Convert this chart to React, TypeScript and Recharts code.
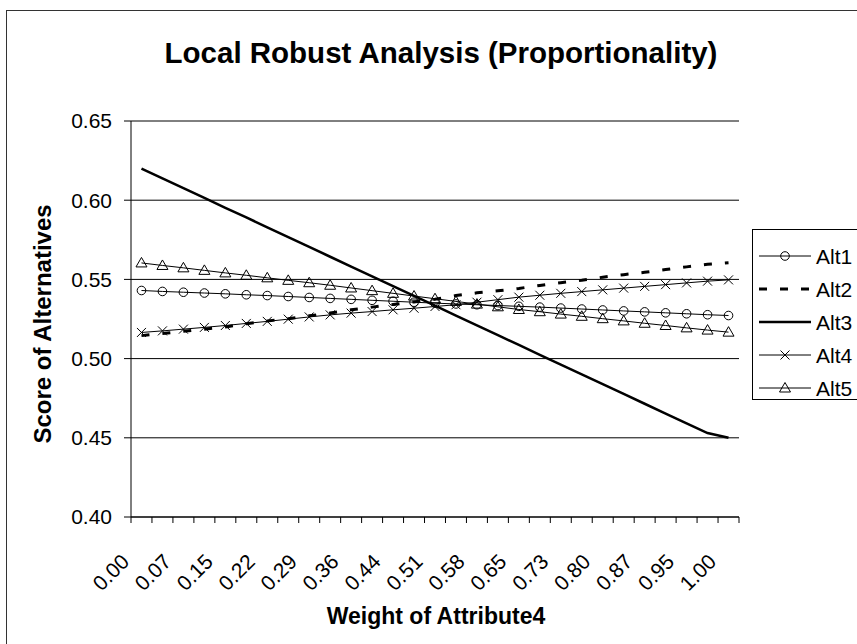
import React from 'react';
import { LineChart, Line, XAxis, YAxis, CartesianGrid } from 'recharts';

const categories = ['0.00','0.04','0.07','0.11','0.15','0.18','0.22','0.25','0.29','0.33','0.36','0.40','0.44','0.47','0.51','0.55','0.58','0.62','0.65','0.69','0.73','0.76','0.80','0.84','0.87','0.91','0.95','0.98','1.00'];

const alt1 = [0.5430,0.5424,0.5419,0.5414,0.5409,0.5403,0.5398,0.5392,0.5386,0.5380,0.5374,0.5368,0.5362,0.5356,0.5350,0.5345,0.5340,0.5335,0.5330,0.5325,0.5319,0.5313,0.5307,0.5301,0.5295,0.5289,0.5283,0.5277,0.5272];
const alt2 = [0.5145,0.5158,0.5172,0.5186,0.5200,0.5220,0.5238,0.5252,0.5270,0.5288,0.5308,0.5325,0.5342,0.5358,0.5375,0.5398,0.5415,0.5428,0.5443,0.5462,0.5479,0.5495,0.5514,0.5530,0.5545,0.5562,0.5579,0.5596,0.5605];
const alt3 = [0.6200,0.6138,0.6076,0.6014,0.5952,0.5891,0.5829,0.5767,0.5705,0.5643,0.5581,0.5519,0.5457,0.5396,0.5334,0.5272,0.5210,0.5148,0.5086,0.5024,0.4962,0.4901,0.4839,0.4777,0.4715,0.4653,0.4591,0.4530,0.4500];
const alt4 = [0.5165,0.5175,0.5186,0.5197,0.5209,0.5222,0.5235,0.5249,0.5263,0.5276,0.5287,0.5297,0.5308,0.5318,0.5329,0.5340,0.5356,0.5372,0.5388,0.5400,0.5412,0.5423,0.5434,0.5445,0.5456,0.5467,0.5478,0.5489,0.5497];
const alt5 = [0.5604,0.5588,0.5573,0.5557,0.5541,0.5526,0.5510,0.5494,0.5479,0.5463,0.5446,0.5429,0.5412,0.5395,0.5378,0.5361,0.5344,0.5327,0.5310,0.5296,0.5281,0.5267,0.5252,0.5238,0.5223,0.5209,0.5194,0.5180,0.5167];

const yTicks = [0.40, 0.45, 0.50, 0.55, 0.60, 0.65];
const seriesNames = ['Alt1', 'Alt2', 'Alt3', 'Alt4', 'Alt5'];
const seriesValues = [alt1, alt2, alt3, alt4, alt5];

const titleText = 'Local Robust Analysis (Proportionality)';
const xTitle = 'Weight of Attribute4';
const yTitle = 'Score of Alternatives';

const data = categories.map((c, i) => {
  const row: Record<string, number | string> = { w: c };
  seriesNames.forEach((n, k) => { row[n] = seriesValues[k][i]; });
  return row;
});

const W = 857;
const H = 644;
const PLOT_L = 131;
const PLOT_R = 739;
const PLOT_T = 121;
const PLOT_B = 517;
const HALF = (PLOT_R - PLOT_L) / categories.length / 2;
const FONT = '"Liberation Sans", Arial, Helvetica, sans-serif';

const CircleDot = (p: any) => (
  <circle key={`c${p.index}`} cx={p.cx} cy={p.cy} r={4.3} fill="none" stroke="#000" strokeWidth={1} />
);
const CrossDot = (p: any) => (
  <path key={`x${p.index}`} d={`M${p.cx - 4.5},${p.cy - 4.5}L${p.cx + 4.5},${p.cy + 4.5}M${p.cx - 4.5},${p.cy + 4.5}L${p.cx + 4.5},${p.cy - 4.5}`} stroke="#000" strokeWidth={1} fill="none" />
);
const TriDot = (p: any) => (
  <path key={`t${p.index}`} d={`M${p.cx},${p.cy - 5.5}L${p.cx + 5.5},${p.cy + 4}L${p.cx - 5.5},${p.cy + 4}Z`} stroke="#000" strokeWidth={1} fill="none" />
);

type SeriesStyle = { width: number; dash?: string; marker?: (p: any) => React.ReactElement };
const styles: Record<string, SeriesStyle> = {
  Alt1: { width: 1, marker: CircleDot },
  Alt2: { width: 3, dash: '8 13' },
  Alt3: { width: 2.5 },
  Alt4: { width: 1, marker: CrossDot },
  Alt5: { width: 1, marker: TriDot },
};

const XTick = (props: any) => {
  const { x, y, payload } = props;
  const idx = payload && payload.index !== undefined ? payload.index : props.index;
  const last = idx === categories.length - 1;
  const ax = x - 11;
  const ay = y + 46;
  return (
    <g>
      <line x1={x - HALF} x2={x - HALF} y1={y} y2={y + 6} stroke="#000" strokeWidth={1} />
      {last && <line x1={x + HALF} x2={x + HALF} y1={y} y2={y + 6} stroke="#000" strokeWidth={1} />}
      {idx % 2 === 0 && (
        <text x={ax} y={ay} textAnchor="end" fontSize={21} fontFamily={FONT} fill="#000" transform={`rotate(-45 ${ax} ${ay})`}>
          {payload.value}
        </text>
      )}
    </g>
  );
};

const LEG_X = 752;
const LEG_Y = 229;
const LEG_STEP = 33;

const Legend = () => (
  <svg width={130} height={175} style={{ position: 'absolute', left: LEG_X, top: LEG_Y, overflow: 'visible' }}>
    <rect x={0.5} y={0.5} width={140} height={170} fill="#fff" stroke="#000" strokeWidth={1} />
    {seriesNames.map((n, k) => {
      const cy = 27 + k * LEG_STEP;
      const s = styles[n];
      return (
        <g key={n}>
          <line x1={7} x2={59} y1={cy} y2={cy} stroke="#000" strokeWidth={s.width} strokeDasharray={s.dash} />
          {s.marker && s.marker({ cx: 33, cy, index: 'leg' })}
          <text x={64} y={cy + 7.5} fontSize={21} fontFamily={FONT} fill="#000">{n}</text>
        </g>
      );
    })}
  </svg>
);

export default function App() {
  return (
    <div style={{ position: 'absolute', left: 0, top: 0, width: W, height: H, overflow: 'hidden', background: '#fff' }}>
      <div style={{ position: 'absolute', left: 6, top: 10, width: 900, height: 700, border: '1px solid #333' }} />
      <div style={{ position: 'absolute', left: 0, top: 0 }}>
        <LineChart
          width={W}
          height={H}
          data={data}
          margin={{ top: PLOT_T, right: W - PLOT_R, bottom: H - PLOT_B - 60, left: PLOT_L - 60 }}
        >
          <CartesianGrid horizontal vertical={false} stroke="#000" strokeWidth={1} />
          <XAxis
            dataKey="w"
            interval={0}
            height={60}
            padding={{ left: HALF, right: HALF }}
            tickSize={0}
            tickMargin={0}
            tickLine={false}
            axisLine={{ stroke: '#000' }}
            tick={<XTick />}
          />
          <XAxis xAxisId="top" dataKey="w" orientation="top" height={0} tick={false} tickLine={false} axisLine={{ stroke: '#808080' }} />
          <YAxis
            width={60}
            domain={[0.4, 0.65]}
            ticks={yTicks}
            interval={0}
            tickSize={7}
            tickMargin={12}
            tickFormatter={(v: number) => v.toFixed(2)}
            tick={{ fontSize: 21, fontFamily: FONT, fill: '#000' }}
            tickLine={{ stroke: '#000' }}
            axisLine={{ stroke: '#000' }}
          />
          <YAxis yAxisId="right" orientation="right" width={0} domain={[0.4, 0.65]} tick={false} tickLine={false} axisLine={{ stroke: '#808080' }} />
          {seriesNames.map((n) => {
            const s = styles[n];
            return (
              <Line
                key={n}
                type="linear"
                dataKey={n}
                name={n}
                stroke="#000"
                strokeWidth={s.width}
                strokeDasharray={s.dash}
                dot={s.marker ? s.marker : false}
                activeDot={false}
                isAnimationActive={false}
              />
            );
          })}
        </LineChart>
      </div>
      <svg width={W} height={H} style={{ position: 'absolute', left: 0, top: 0, pointerEvents: 'none' }}>
        <text x={441} y={63} textAnchor="middle" fontSize={29.5} fontWeight="bold" fontFamily={FONT} fill="#000">{titleText}</text>
        <text x={51} y={324} textAnchor="middle" fontSize={24} fontWeight="bold" fontFamily={FONT} fill="#000" transform="rotate(-90 51 324)">{yTitle}</text>
        <text x={436} y={624} textAnchor="middle" fontSize={23} fontWeight="bold" fontFamily={FONT} fill="#000">{xTitle}</text>
      </svg>
      <Legend />
    </div>
  );
}
